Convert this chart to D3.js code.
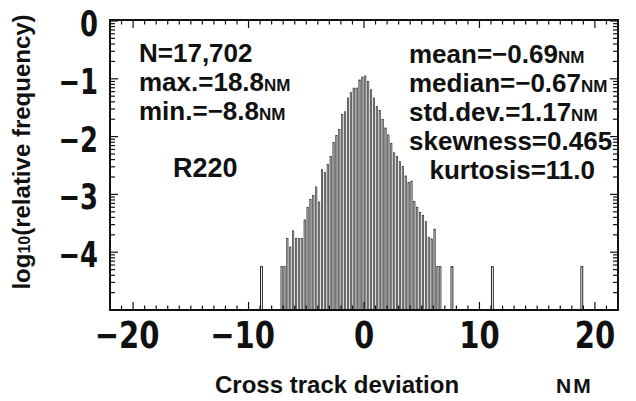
<!DOCTYPE html>
<html>
<head>
<meta charset="utf-8">
<script src="https://cdn.jsdelivr.net/npm/d3@7"></script>
<style>
  body { margin: 0; background: #fff; }
  text { font-family: "Liberation Sans", Arial, sans-serif; font-weight: bold; fill: #111; }
  .num { font-family: "Liberation Sans Narrow", "Arial Narrow", "DejaVu Sans Condensed", sans-serif; }
</style>
</head>
<body>
<svg width="636" height="401"></svg>
<script>
// Histogram of cross track deviation (bin width 0.25 NM), log10 of relative frequency
const binWidth = 0.25;
const binStarts = [
  -7.25, -7.0, -6.75, -6.5, -6.25, -6.0, -5.75, -5.5, -5.25, -5.0,
  -4.75, -4.5, -4.25, -4.0, -3.75, -3.5, -3.25, -3.0, -2.75, -2.5,
  -2.25, -2.0, -1.75, -1.5, -1.25, -1.0, -0.75, -0.5, -0.25, 0.0,
  0.25, 0.5, 0.75, 1.0, 1.25, 1.5, 1.75, 2.0, 2.25, 2.5,
  2.75, 3.0, 3.25, 3.5, 3.75, 4.0, 4.25, 4.5, 4.75, 5.0,
  5.25, 5.5, 5.75, 6.0, 6.25, 6.5
];
const logFreq = [
  -4.25, -4.25, -3.76, -3.91, -3.63, -3.76, -3.76, -3.76, -3.44, -3.23,
  -3.09, -3.02, -2.87, -3.13, -2.57, -2.62, -2.48, -2.34, -2.10, -1.98,
  -1.88, -1.62, -1.57, -1.33, -1.24, -1.16, -1.16, -1.02, -0.97, -0.95,
  -1.05, -1.19, -1.33, -1.48, -1.55, -1.70, -1.85, -1.97, -2.12, -2.28,
  -2.34, -2.43, -2.52, -2.68, -2.79, -2.77, -3.12, -3.22, -3.31, -3.36,
  -3.47, -3.74, -3.77, -3.60, -4.25, -4.25
];
// isolated single observations
const outlierStarts = [-9.0, 7.5, 11.0, 18.75];
const outlierLog = [-4.25, -4.25, -4.25, -4.25];

const xTickLabels = [-20, -10, 0, 10, 20];
const yTickLabels = [0, -1, -2, -3, -4];

const leftStats = [
  { label: "N=17,702", unit: "" },
  { label: "max.=18.8", unit: "NM" },
  { label: "min.=\u22128.8", unit: "NM" }
];
const rightStats = [
  { label: "mean=\u22120.69", unit: "NM" },
  { label: "median=\u22120.67", unit: "NM" },
  { label: "std.dev.=1.17", unit: "NM" },
  { label: "skewness=0.465", unit: "" },
  { label: "kurtosis=11.0", unit: "" }
];

const svg = d3.select("svg");

const x = d3.scaleLinear().domain([-22, 22]).range([110, 618]);
const y = d3.scaleLinear().domain([-5, 0]).range([310, 21]);

const binPx = x(binWidth) - x(0);

// bars
const bins = binStarts.map((s, i) => ({ start: s, v: logFreq[i] }));
svg.append("g")
  .selectAll("rect")
  .data(bins)
  .join("rect")
  .attr("x", d => x(d.start) + 0.6)
  .attr("width", binPx - 1.5)
  .attr("y", d => y(d.v))
  .attr("height", d => y(-5) - y(d.v))
  .attr("fill", "#b4b4b4")
  .attr("stroke", "#222")
  .attr("stroke-width", 0.6);

const outliers = outlierStarts.map((s, i) => ({ start: s, v: outlierLog[i] }));
svg.append("g")
  .selectAll("rect")
  .data(outliers)
  .join("rect")
  .attr("x", d => x(d.start) + 0.4)
  .attr("width", binPx - 1.0)
  .attr("y", d => y(d.v))
  .attr("height", d => y(-5) - y(d.v))
  .attr("fill", "#fff")
  .attr("stroke", "#111")
  .attr("stroke-width", 0.9);

// ticks (inward on all four sides)
const xTicks = d3.range(-22, 23);
const yMajor = d3.range(0, -5, -1);
const yMinor = [];
yMajor.forEach(m => {
  for (let k = 2; k <= 9; k++) yMinor.push(m - 1 + Math.log10(k));
});

const ticks = svg.append("g").attr("stroke", "#111").attr("stroke-width", 1.2);
xTicks.forEach(t => {
  const len = t % 10 === 0 ? 8 : 4.5;
  ticks.append("line").attr("x1", x(t)).attr("x2", x(t)).attr("y1", y(-5)).attr("y2", y(-5) - len);
  ticks.append("line").attr("x1", x(t)).attr("x2", x(t)).attr("y1", 20).attr("y2", 20 + len);
});
yMajor.forEach(t => {
  ticks.append("line").attr("x1", 110).attr("x2", 118).attr("y1", y(t)).attr("y2", y(t));
  ticks.append("line").attr("x1", 618).attr("x2", 610).attr("y1", y(t)).attr("y2", y(t));
});
yMinor.forEach(t => {
  ticks.append("line").attr("x1", 110).attr("x2", 115).attr("y1", y(t)).attr("y2", y(t));
  ticks.append("line").attr("x1", 618).attr("x2", 613).attr("y1", y(t)).attr("y2", y(t));
});

// frame
svg.append("rect")
  .attr("x", 110).attr("y", 20)
  .attr("width", 508).attr("height", 290)
  .attr("fill", "none").attr("stroke", "#111").attr("stroke-width", 2);

// tick labels
const fmt = v => (v < 0 ? "\u2212" : "") + Math.abs(v);
svg.append("g")
  .selectAll("text")
  .data(yTickLabels)
  .join("text")
  .attr("class", "num")
  .attr("text-anchor", "end")
  .attr("transform", d => `translate(98,${y(d) + 15}) scale(0.82,1)`)
  .attr("font-size", 35)
  .text(fmt);

svg.append("g")
  .selectAll("text")
  .data(xTickLabels)
  .join("text")
  .attr("class", "num")
  .attr("text-anchor", "middle")
  .attr("transform", d => `translate(${x(d) - (d < 0 ? 6 : 0)},348) scale(0.85,1)`)
  .attr("font-size", 38)
  .text(fmt);

// axis titles
const yt = svg.append("text")
  .attr("transform", "translate(30,152) rotate(-90)")
  .attr("text-anchor", "middle")
  .attr("font-size", 24);
yt.append("tspan").text("log");
yt.append("tspan").attr("font-size", 16).text("10");
yt.append("tspan").text("(relative frequency)");

svg.append("text")
  .attr("x", 215).attr("y", 393)
  .attr("font-size", 24)
  .text("Cross track deviation");
svg.append("text")
  .attr("x", 556).attr("y", 393)
  .attr("font-size", 21)
  .attr("letter-spacing", 2)
  .text("NM");

// statistics
const addStat = (g, d) => {
  g.append("tspan").text(d.label);
  if (d.unit) g.append("tspan").attr("font-size", 17).text(d.unit);
};
leftStats.forEach((d, i) => {
  const t = svg.append("text").attr("x", 139).attr("y", 62 + i * 29).attr("font-size", 26);
  addStat(t, d);
});
svg.append("text").attr("x", 173).attr("y", 177).attr("font-size", 27).text("R220");

rightStats.forEach((d, i) => {
  const t = svg.append("text").attr("font-size", 26).attr("y", 63 + i * 29);
  if (i === rightStats.length - 1) t.attr("x", 595).attr("text-anchor", "end");
  else t.attr("x", 409);
  addStat(t, d);
});
</script>
</body>
</html>
